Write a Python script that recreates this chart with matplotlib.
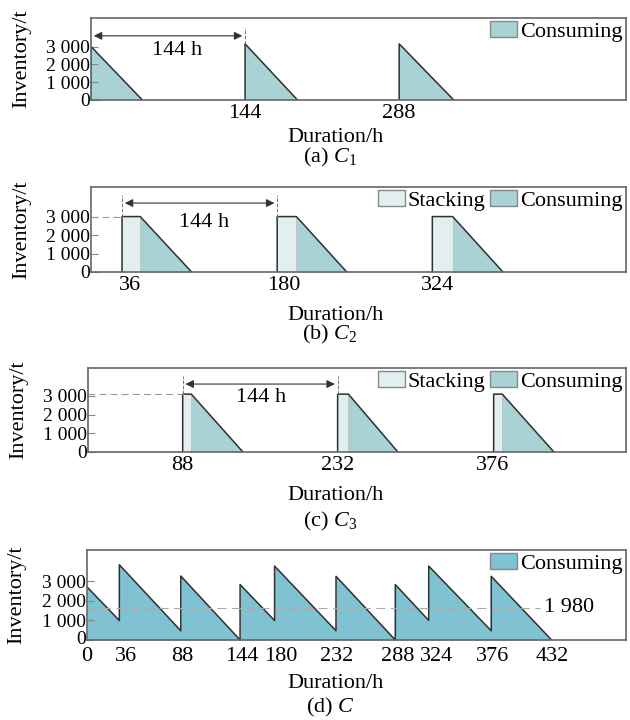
import matplotlib
matplotlib.use('Agg')
import matplotlib.pyplot as plt
from matplotlib.patches import Patch
from matplotlib.transforms import ScaledTranslation

plt.rcParams['font.family'] = ['Liberation Serif', 'DejaVu Serif']
plt.rcParams['mathtext.fontset'] = 'custom'
plt.rcParams['mathtext.rm'] = 'Liberation Serif'
plt.rcParams['mathtext.it'] = 'Liberation Serif:italic'

# (a) C1: consuming only
a_rise = [0, 144, 288]
a_peak = [3000, 3150, 3150]
a_end = [48, 193, 339]

# (b) C2: stacking then consuming
b_rise = [29, 174, 319]
b_stack_end = [46, 192, 338]
b_end = [94, 239, 385]
b_peak = 3000

# (c) C3
c_rise = [88, 232, 377]
c_stack_end = [96, 242, 385]
c_end = [144, 288, 433]
c_peak = 3100

# (d) combined inventory C
d_t = [0, 30, 30, 87, 87, 142, 142, 174, 174, 231, 231, 286, 286, 317, 317, 375, 375, 431]
d_v = [2715, 995, 3845, 472, 3270, 0, 2833, 995, 3777, 472, 3255, 0, 2833, 1000, 3777, 470, 3255, 0]
d_avg = 1650
d_avg_label = '1 980'

a_ticks = [144, 288]
b_ticks = [36, 180, 324]
c_ticks = [88, 232, 376]
d_ticks = [0, 36, 88, 144, 180, 232, 288, 324, 376, 432]
y_ticks = [0, 1000, 2000, 3000]
y_labels = ['0', '1 000', '2 000', '3 000']

cons_col = '#a9d2d4'
stack_col = '#e2eff0'
d_col = '#80c1d2'
line_col = '#2f2f2f'
fs = 16

fig = plt.figure(figsize=(6.3, 7.2), dpi=100)
ax_a = fig.add_axes([91/630, 1-100/720, 535/630, 82/720])
ax_b = fig.add_axes([91/630, 1-272/720, 535/630, 85/720])
ax_c = fig.add_axes([88/630, 1-452/720, 538/630, 84/720])
ax_d = fig.add_axes([87/630, 1-640/720, 539/630, 90/720])

for ax, top in [(ax_a, 4600), (ax_b, 4600), (ax_c, 4500), (ax_d, 4600)]:
    ax.set_xlim(0, 500)
    ax.set_ylim(0, top)
    ax.set_yticks(y_ticks)
    ax.set_yticklabels(y_labels)
    ax.tick_params(axis='y', direction='in', length=5, color='#888888', labelsize=14, pad=1)
    ax.tick_params(axis='x', length=0, labelsize=fs, pad=3)
    for s in ax.spines.values():
        s.set_color('#666666')
        s.set_linewidth(1.2)
    ax.set_ylabel('Inventory/t', fontsize=fs)
    ax.yaxis.set_label_coords(-0.112, 0.5)
ax_d.tick_params(axis='x', pad=5)

# (a)
for r, p, e in zip(a_rise, a_peak, a_end):
    ax_a.fill_between([r, e], [p, 0], color=cons_col, lw=0)
    ax_a.plot([r, r, e], [0, p, 0], color=line_col, lw=1.1)
ax_a.set_xticks(a_ticks)
ax_a.annotate('', xy=(0, 3600), xytext=(144, 3600),
              arrowprops=dict(arrowstyle='<|-|>', color='#333333', lw=0.8, mutation_scale=12))
ax_a.plot([144, 144], [3150, 4050], color='#777777', lw=0.7, ls='--')
ax_a.text(80, 2800, '144 h', fontsize=fs, ha='center', va='center')
ax_a.legend(handles=[Patch(facecolor=cons_col, edgecolor='#888888', label='Consuming')],
            loc='upper right', frameon=False, fontsize=fs, handlelength=1.2, handleheight=0.7,
            handletextpad=0.15, borderaxespad=0.05, borderpad=0.1)

# (b) and (c)
for ax, rise, send, end, peak, ticks, arr_y, txt in [
        (ax_b, b_rise, b_stack_end, b_end, b_peak, b_ticks, 3730, (106, 2700)),
        (ax_c, c_rise, c_stack_end, c_end, c_peak, c_ticks, 3640, (161, 2900))]:
    for r, s, e in zip(rise, send, end):
        ax.fill_between([r, s], [peak, peak], color=stack_col, lw=0)
        ax.fill_between([s, e], [peak, 0], color=cons_col, lw=0)
        ax.plot([s, s], [0, peak], color='#bbbbbb', lw=0.6)
        ax.plot([r, r, s, e], [0, peak, peak, 0], color=line_col, lw=1.1)
    ax.set_xticks(ticks)
    ax.plot([0, rise[0]], [peak, peak], color='#999999', lw=0.8, ls=(0, (6, 4)))
    ax.annotate('', xy=(rise[0], arr_y), xytext=(rise[1], arr_y),
                arrowprops=dict(arrowstyle='<|-|>', color='#333333', lw=0.8, mutation_scale=12))
    for r in rise[:2]:
        ax.plot([r, r], [peak, arr_y + 450], color='#777777', lw=0.7, ls='--')
    ax.text(txt[0], txt[1], '144 h', fontsize=fs, ha='center', va='center')
    ax.legend(handles=[Patch(facecolor=stack_col, edgecolor='#888888', label='Stacking'),
                       Patch(facecolor=cons_col, edgecolor='#888888', label='Consuming')],
              loc='upper right', ncol=2, frameon=False, fontsize=fs, handlelength=1.2,
              handleheight=0.7, handletextpad=0.15, columnspacing=0.2,
              borderaxespad=0.05, borderpad=0.1)

# (d)
ax_d.fill_between(d_t, d_v, color=d_col, lw=0)
ax_d.plot(d_t, d_v, color=line_col, lw=1.1)
ax_d.set_xticks(d_ticks)
ax_d.plot([0, 420], [d_avg, d_avg], color='#aaaaaa', lw=0.8, ls=(0, (8, 5)))
ax_d.text(424, d_avg, d_avg_label, fontsize=fs, ha='left', va='center')
ax_d.legend(handles=[Patch(facecolor=d_col, edgecolor='#888888', label='Consuming')],
            loc='upper right', frameon=False, fontsize=fs, handlelength=1.2, handleheight=0.7,
            handletextpad=0.15, borderaxespad=0.05, borderpad=0.1)
# lift the y "0" a little so it clears the x "0"
lab0 = ax_d.get_yticklabels()[0]
lab0.set_transform(lab0.get_transform() + ScaledTranslation(0, 2/72, fig.dpi_scale_trans))

# axis titles and captions
for yc, yk, cap in [(137, 157, '(a) $C_1$'), (315, 334, '(b) $C_2$'),
                    (495, 521, '(c) $C_3$'), (683, 707, '(d) $C$')]:
    fig.text(335/630, 1-yc/720, 'Duration/h', fontsize=fs, ha='center', va='center')
    fig.text(330/630, 1-yk/720, cap, fontsize=fs, ha='center', va='center')

fig.savefig('out.png', dpi=100)
